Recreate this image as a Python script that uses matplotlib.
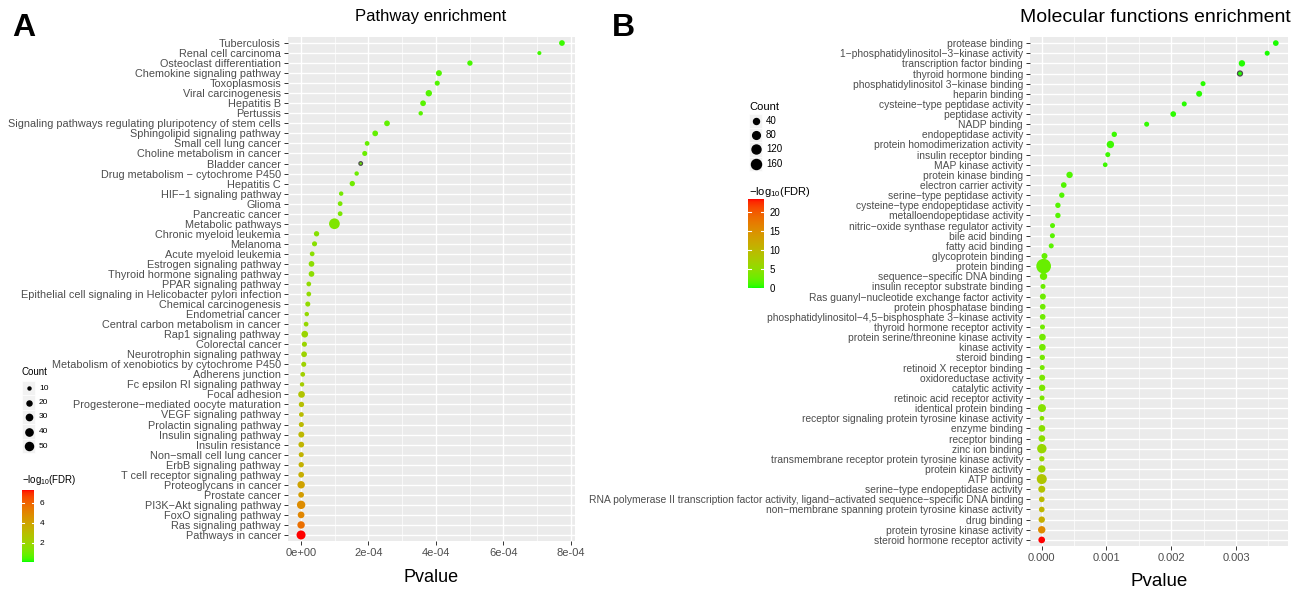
import numpy as np
import matplotlib
matplotlib.use('Agg')
import matplotlib.pyplot as plt
from matplotlib.colors import ListedColormap, Normalize
from matplotlib.cm import ScalarMappable
from matplotlib.patches import Rectangle
from matplotlib.ticker import MultipleLocator, FuncFormatter

plt.rcParams['font.family'] = ['Liberation Sans', 'DejaVu Sans']
plt.rcParams['mathtext.fontset'] = 'custom'
plt.rcParams['mathtext.rm'] = 'Liberation Sans'

# ---- panel A: KEGG pathways ----
pathways = [
    'Tuberculosis', 'Renal cell carcinoma', 'Osteoclast differentiation',
    'Chemokine signaling pathway', 'Toxoplasmosis', 'Viral carcinogenesis',
    'Hepatitis B', 'Pertussis',
    'Signaling pathways regulating pluripotency of stem cells',
    'Sphingolipid signaling pathway', 'Small cell lung cancer',
    'Choline metabolism in cancer', 'Bladder cancer',
    'Drug metabolism \u2212 cytochrome P450', 'Hepatitis C',
    'HIF\u22121 signaling pathway', 'Glioma', 'Pancreatic cancer',
    'Metabolic pathways', 'Chronic myeloid leukemia', 'Melanoma',
    'Acute myeloid leukemia', 'Estrogen signaling pathway',
    'Thyroid hormone signaling pathway', 'PPAR signaling pathway',
    'Epithelial cell signaling in Helicobacter pylori infection',
    'Chemical carcinogenesis', 'Endometrial cancer',
    'Central carbon metabolism in cancer', 'Rap1 signaling pathway',
    'Colorectal cancer', 'Neurotrophin signaling pathway',
    'Metabolism of xenobiotics by cytochrome P450', 'Adherens junction',
    'Fc epsilon RI signaling pathway', 'Focal adhesion',
    'Progesterone\u2212mediated oocyte maturation', 'VEGF signaling pathway',
    'Prolactin signaling pathway', 'Insulin signaling pathway',
    'Insulin resistance', 'Non\u2212small cell lung cancer',
    'ErbB signaling pathway', 'T cell receptor signaling pathway',
    'Proteoglycans in cancer', 'Prostate cancer',
    'PI3K\u2212Akt signaling pathway', 'FoxO signaling pathway',
    'Ras signaling pathway', 'Pathways in cancer']
pval_a = [7.74e-4, 7.07e-4, 5.01e-4, 4.09e-4, 4.04e-4, 3.79e-4, 3.62e-4,
          3.55e-4, 2.55e-4, 2.20e-4, 1.96e-4, 1.89e-4, 1.77e-4, 1.65e-4,
          1.52e-4, 1.19e-4, 1.16e-4, 1.16e-4, 0.99e-4, 0.46e-4, 0.40e-4,
          0.33e-4, 0.31e-4, 0.31e-4, 0.23e-4, 0.23e-4, 0.20e-4, 0.17e-4,
          0.15e-4, 0.11e-4, 0.10e-4, 0.09e-4, 0.08e-4, 0.05e-4, 0.03e-4,
          0.015e-4, 0.012e-4, 0.010e-4, 0.009e-4, 0.008e-4, 0.007e-4,
          0.006e-4, 0.005e-4, 0.004e-4, 0.003e-4, 0.0025e-4, 0.002e-4,
          0.0015e-4, 0.001e-4, 0.0e-4]
count_a = [25, 14, 22, 27, 20, 31, 25, 16, 25, 25, 18, 20, 12, 16, 22, 16,
           18, 18, 91, 22, 20, 18, 25, 25, 18, 18, 20, 16, 18, 34, 20, 25,
           20, 18, 16, 34, 22, 18, 20, 27, 25, 20, 22, 25, 42, 25, 54, 34,
           42, 63]
fdr_a = [0.35, 0.4, 0.45, 0.55, 0.55, 0.6, 0.65, 0.65, 0.75, 0.8, 0.85,
         0.9, 0.9, 0.95, 1.0, 1.1, 1.2, 1.2, 1.3, 1.45, 1.5, 1.55, 1.6,
         1.6, 1.7, 1.7, 1.75, 1.8, 1.85, 1.95, 2.0, 2.05, 2.1, 2.2, 2.3,
         2.7, 2.9, 3.0, 3.1, 3.2, 3.3, 3.35, 3.45, 3.55, 4.0, 4.2, 4.8,
         5.0, 5.7, 7.27]
outlined_a = ['Bladder cancer']

# ---- panel B: GO molecular function ----
functions = [
    'protease binding', '1\u2212phosphatidylinositol\u22123\u2212kinase activity',
    'transcription factor binding', 'thyroid hormone binding',
    'phosphatidylinositol 3\u2212kinase binding', 'heparin binding',
    'cysteine\u2212type peptidase activity', 'peptidase activity',
    'NADP binding', 'endopeptidase activity',
    'protein homodimerization activity', 'insulin receptor binding',
    'MAP kinase activity', 'protein kinase binding',
    'electron carrier activity', 'serine\u2212type peptidase activity',
    'cysteine\u2212type endopeptidase activity', 'metalloendopeptidase activity',
    'nitric\u2212oxide synthase regulator activity', 'bile acid binding',
    'fatty acid binding', 'glycoprotein binding', 'protein binding',
    'sequence\u2212specific DNA binding', 'insulin receptor substrate binding',
    'Ras guanyl\u2212nucleotide exchange factor activity',
    'protein phosphatase binding',
    'phosphatidylinositol\u22124,5\u2212bisphosphate 3\u2212kinase activity',
    'thyroid hormone receptor activity',
    'protein serine/threonine kinase activity', 'kinase activity',
    'steroid binding', 'retinoid X receptor binding',
    'oxidoreductase activity', 'catalytic activity',
    'retinoic acid receptor activity', 'identical protein binding',
    'receptor signaling protein tyrosine kinase activity', 'enzyme binding',
    'receptor binding', 'zinc ion binding',
    'transmembrane receptor protein tyrosine kinase activity',
    'protein kinase activity', 'ATP binding',
    'serine\u2212type endopeptidase activity',
    'RNA polymerase II transcription factor activity, ligand\u2212activated '
    'sequence\u2212specific DNA binding',
    'non\u2212membrane spanning protein tyrosine kinase activity',
    'drug binding', 'protein tyrosine kinase activity',
    'steroid hormone receptor activity']
pval_b = [3.613e-3, 3.48e-3, 3.09e-3, 3.06e-3, 2.49e-3, 2.43e-3, 2.20e-3,
          2.03e-3, 1.62e-3, 1.12e-3, 1.06e-3, 1.02e-3, 0.98e-3, 0.43e-3,
          0.34e-3, 0.31e-3, 0.25e-3, 0.25e-3, 0.167e-3, 0.165e-3, 0.147e-3,
          0.043e-3, 0.030e-3, 0.028e-3, 0.020e-3, 0.018e-3, 0.016e-3,
          0.015e-3, 0.012e-3, 0.011e-3, 0.010e-3, 0.009e-3, 0.008e-3,
          0.007e-3, 0.006e-3, 0.005e-3, 0.004e-3, 0.0035e-3, 0.003e-3,
          0.0025e-3, 0.002e-3, 0.0018e-3, 0.0015e-3, 0.0012e-3, 0.001e-3,
          0.0008e-3, 0.0006e-3, 0.0004e-3, 0.0002e-3, 0.0]
count_b = [35, 25, 48, 25, 25, 40, 25, 35, 25, 30, 71, 25, 21, 48, 35, 30,
           30, 30, 25, 25, 25, 40, 410, 71, 25, 40, 35, 35, 25, 54, 54, 30,
           25, 40, 48, 25, 88, 21, 54, 54, 135, 30, 71, 158, 61, 35, 35, 48,
           71, 54]
fdr_b = [0.2, 0.25, 0.3, 0.3, 0.4, 0.4, 0.45, 0.5, 0.6, 0.8, 0.85, 0.9,
         0.9, 1.4, 1.5, 1.55, 1.6, 1.6, 1.8, 1.8, 1.85, 2.3, 2.5, 2.6, 2.7,
         2.8, 2.9, 2.9, 3.0, 3.1, 3.2, 3.3, 3.3, 3.5, 3.6, 3.7, 4.4, 4.5,
         4.6, 4.8, 5.8, 5.9, 6.4, 8.3, 8.8, 9.8, 10.3, 11.3, 15.5, 23.5]
outlined_b = ['thyroid hormone binding']

legend_counts_a = [10, 20, 30, 40, 50]
legend_counts_b = [40, 80, 120, 160]

W, H = 1301, 591


# ggplot-like green -> red gradient interpolated in CIE Lab
M = np.array([[0.4124564, 0.3575761, 0.1804375],
              [0.2126729, 0.7151522, 0.0721750],
              [0.0193339, 0.1191920, 0.9503041]])
WP = np.array([0.95047, 1.0, 1.08883])


def to_lab(rgb):
    c = np.asarray(rgb, float)
    lin = np.where(c <= 0.04045, c / 12.92, ((c + 0.055) / 1.055) ** 2.4)
    t = (M @ lin) / WP
    f = np.where(t > (6 / 29) ** 3, np.cbrt(t), t / (3 * (6 / 29) ** 2) + 4 / 29)
    return np.array([116 * f[1] - 16, 500 * (f[0] - f[1]), 200 * (f[1] - f[2])])


def from_lab(lab):
    fy = (lab[0] + 16) / 116
    f = np.array([fy + lab[1] / 500, fy, fy - lab[2] / 200])
    t = np.where(f > 6 / 29, f ** 3, 3 * (6 / 29) ** 2 * (f - 4 / 29))
    lin = np.clip(np.linalg.solve(M, t * WP), 0, 1)
    c = np.where(lin <= 0.0031308, 12.92 * lin, 1.055 * lin ** (1 / 2.4) - 0.055)
    return np.clip(c, 0, 1)


lo, hi = to_lab([0, 1, 0]), to_lab([1, 0, 0])
cmap = ListedColormap([from_lab(lo + (hi - lo) * t) for t in np.linspace(0, 1, 256)])


def px(x0, y0, x1, y1):
    return [x0 / W, 1 - y1 / H, (x1 - x0) / W, (y1 - y0) / H]


def size_a(c):
    d = 1.6 + np.sqrt(np.maximum(np.asarray(c, float) - 8, 0))
    return (d * 0.72) ** 2


def size_b(c):
    d = 2.7 + 0.6 * np.sqrt(np.maximum(np.asarray(c, float) - 10, 0))
    return (d * 0.72) ** 2


def dot_panel(ax, labels, pvals, counts, fdr, vmin, vmax, size_fn, outlined,
              major, minor, fmt, label_size):
    n = len(labels)
    y = np.arange(n)[::-1]
    ax.set_facecolor('#EBEBEB')
    for s in ax.spines.values():
        s.set_visible(False)
    norm = Normalize(vmin, vmax)
    edges = ['#4D4D4D' if l in outlined else 'none' for l in labels]
    ax.scatter(pvals, y, s=size_fn(counts), c=cmap(norm(fdr)),
               edgecolors=edges, linewidths=0.9, zorder=3)
    ax.set_yticks(y)
    ax.set_yticklabels(labels, fontsize=label_size, color='#4D4D4D')
    ax.set_ylim(-0.6, n - 0.4)
    span = max(pvals) - min(pvals)
    ax.set_xlim(min(pvals) - 0.05 * span, max(pvals) + 0.05 * span)
    ax.xaxis.set_major_locator(MultipleLocator(major))
    ax.xaxis.set_minor_locator(MultipleLocator(minor))
    ax.xaxis.set_major_formatter(FuncFormatter(fmt))
    ax.grid(True, which='major', color='white', lw=1.0, zorder=0)
    ax.grid(True, which='minor', axis='x', color='white', lw=0.5, zorder=0)
    ax.set_axisbelow(True)
    ax.tick_params(which='major', length=3, width=0.7, color='#333333',
                   pad=2, labelcolor='#4D4D4D')
    ax.tick_params(axis='x', labelsize=8)
    ax.tick_params(which='minor', length=0)


def legends(ov, x0, y_title, key_ys, counts, size_fn, cb_title_y, cb_box,
            vmin, vmax, cb_ticks, fs):
    ov.text(x0, y_title, 'Count', fontsize=fs, va='center', ha='left')
    for yk, c in zip(key_ys, counts):
        ov.add_patch(Rectangle((x0, yk - 7.2), 13, 14.4, facecolor='#F2F2F2',
                               edgecolor='white', lw=0.5))
        ov.scatter([x0 + 6.5], [yk], s=size_fn(c), color='black', zorder=3)
        ov.text(x0 + 17, yk, str(c), fontsize=fs - 1, va='center', ha='left')
    ov.text(x0, cb_title_y, r'$\mathregular{-log_{10}(FDR)}$', fontsize=fs,
            va='center', ha='left')
    cax = fig.add_axes(px(*cb_box))
    cb = fig.colorbar(ScalarMappable(Normalize(vmin, vmax), cmap), cax=cax)
    cb.outline.set_visible(False)
    cb.set_ticks(cb_ticks)
    cax.tick_params(length=0, labelsize=fs - 1, pad=4)
    for t in cb_ticks:
        cax.plot([0, 0.2], [t, t], color='white', lw=0.8, transform=cax.get_yaxis_transform())
        cax.plot([0.8, 1], [t, t], color='white', lw=0.8, transform=cax.get_yaxis_transform())


fig = plt.figure(figsize=(W / 100, H / 100), dpi=100)

ax_a = fig.add_axes(px(288, 37, 575, 541))
dot_panel(ax_a, pathways, pval_a, count_a, fdr_a, 0.1, 7.27, size_a,
          outlined_a, 2e-4, 1e-4, lambda v, p: '{:.0e}'.format(v).replace('-0e', '0e'),
          7.8)
ax_a.set_xlabel('Pvalue', fontsize=13, labelpad=8)

ax_b = fig.add_axes(px(1030, 37, 1287.5, 546))
dot_panel(ax_b, functions, pval_b, count_b, fdr_b, 0.0, 23.5, size_b,
          outlined_b, 1e-3, 0.5e-3, lambda v, p: '{:.3f}'.format(abs(v) if abs(v) < 1e-9 else v),
          7.4)
ax_b.set_xlabel('Pvalue', fontsize=13.5, labelpad=7)

ov = fig.add_axes([0, 0, 1, 1])
ov.set_xlim(0, W)
ov.set_ylim(H, 0)
ov.axis('off')

ov.text(12, 28, 'A', fontsize=23, fontweight='bold', va='center', ha='left')
ov.text(612, 28, 'B', fontsize=23, fontweight='bold', va='center', ha='left')
ov.text(431, 17, 'Pathway enrichment', fontsize=12, va='center', ha='center')
ov.text(1155, 18, 'Molecular functions enrichment', fontsize=14, va='center', ha='center')

legends(ov, 22, 372, [388, 402.5, 417, 431.5, 446], legend_counts_a, size_a,
        480, (22, 490, 34, 562), 0.1, 7.27, [2, 4, 6], 7)
legends(ov, 749, 106.7, [120.7, 135, 149.3, 163.7], legend_counts_b, size_b,
        192, (748, 199, 764, 288), 0.0, 23.5, [0, 5, 10, 15, 20], 8)

fig.savefig('out.png', dpi=100)
